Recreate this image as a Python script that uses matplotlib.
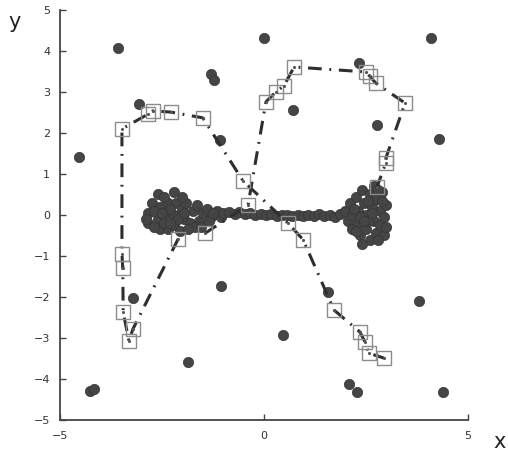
import numpy as np
import matplotlib
matplotlib.use("Agg")
import matplotlib.pyplot as plt

# scattered outliers
outX = [-3.58, -4.53, -1.30, -1.23, -3.07, -1.08, 0.00, 4.09, 2.33, 0.71, 2.77, 4.29,
        -3.21, -1.05, -1.86, -4.26, -4.17, 1.57, 3.80, 0.47, 2.08, 2.28, 4.39]
outY = [4.07, 1.41, 3.44, 3.29, 2.71, 1.83, 4.32, 4.32, 3.71, 2.56, 2.20, 1.85,
        -2.02, -1.73, -3.58, -4.29, -4.24, -1.88, -2.10, -2.93, -4.12, -4.31, -4.31]

# dumbbell cluster near y=0
leftX = [-2.85, -2.85, -2.75, -2.6, -2.55, -2.6, -2.55, -2.35, -2.4, -2.35, -2.2, -2.15,
         -2.2, -2.2, -2.05, -2.0, -1.95, -1.9, -1.75, -1.8, -1.65, -1.6, -1.5, -1.4,
         -1.3, -1.15, -1.05, -2.45, -2.0, -1.7, -2.7, -2.7, -2.45, -2.3, -2.1, -1.85,
         -1.55, -1.35, -2.9, -2.5, -2.3, -1.95, -1.25]
leftY = [0.05, -0.2, 0.3, 0.5, 0.2, -0.1, -0.35, -0.35, 0.05, 0.3, 0.55, 0.3,
         0.0, -0.25, -0.4, 0.15, -0.1, 0.3, 0.1, -0.2, 0.25, -0.15, 0.05, 0.15,
         -0.05, 0.1, -0.05, 0.45, 0.45, -0.3, 0.1, -0.3, -0.2, 0.15, -0.1, -0.35,
         -0.3, -0.15, -0.1, 0.05, -0.2, 0.05, 0.05]
chainX = [-1.0, -0.85, -0.72, -0.6, -0.47, -0.34, -0.21, -0.08, 0.05, 0.18, 0.31, 0.44,
          0.57, 0.7, 0.83, 0.96, 1.09, 1.22, 1.35, 1.48, 1.61, 1.74, 1.87]
chainY = [0.05, 0.08, 0.02, 0.07, 0.02, 0.05, 0.0, 0.03, -0.01, 0.02, -0.02, 0.01,
          0.0, -0.02, 0.0, -0.03, 0.0, -0.02, 0.02, -0.03, 0.0, -0.05, 0.02]
rightX = [2.0, 2.05, 2.1, 2.15, 2.25, 2.3, 2.3, 2.35, 2.4, 2.45, 2.5, 2.5, 2.6, 2.6,
          2.65, 2.7, 2.75, 2.75, 2.85, 2.85, 2.9, 2.95, 2.95, 3.0, 2.15, 2.4, 2.7,
          2.2, 2.35, 2.55, 2.55, 2.8, 2.8, 3.0, 2.45, 2.65, 2.9, 2.25]
rightY = [0.1, -0.15, 0.3, -0.35, 0.45, 0.1, -0.2, -0.5, 0.6, 0.3, 0.0, -0.35, 0.5, -0.6,
          0.2, -0.15, 0.4, -0.45, 0.1, -0.25, 0.55, -0.05, -0.5, 0.25, 0.0, -0.7, 0.7,
          0.15, -0.05, 0.35, -0.15, 0.6, -0.6, -0.3, -0.15, 0.05, 0.35, -0.4]

# two square-marker paths
path1X = [-2.1, -3.21, -3.31, -3.45, -3.46, -3.48, -3.48, -2.84, -2.72, -2.28, -1.50,
          -0.51, 0.59, 0.96, 1.72, 2.35, 2.48, 2.57, 2.94]
path1Y = [-0.58, -2.78, -3.07, -2.37, -1.29, -0.95, 2.10, 2.46, 2.54, 2.51, 2.37,
          0.83, -0.20, -0.60, -2.32, -2.85, -3.10, -3.37, -3.49]
path2X = [-1.45, -0.39, 0.05, 0.29, 0.49, 0.74, 2.50, 2.60, 2.74, 3.46, 2.99, 2.99, 2.77]
path2Y = [-0.45, 0.24, 2.76, 3.00, 3.15, 3.61, 3.49, 3.38, 3.22, 2.73, 1.39, 1.27, 0.68]

fig = plt.figure(figsize=(5.08, 4.55), dpi=100)
ax = fig.add_axes([0.118, 0.077, 0.803, 0.901])

dot = dict(s=55, c='#454545', edgecolors='#353535', linewidths=0.5, zorder=2)
ax.scatter(outX, outY, **dot)
ax.scatter(leftX + chainX + rightX, leftY + chainY + rightY, **dot)

for px, py in [(path1X, path1Y), (path2X, path2Y)]:
    ax.plot(px, py, color='#2e2e2e', lw=2.2, linestyle=(0, (4.5, 2.5, 0.6, 2.5)), zorder=3)
    ax.plot(px, py, linestyle='none', marker='s', ms=9.5, mfc='none',
            mec='#8c8c8c', mew=1.0, zorder=4)
    ax.plot(px, py, linestyle='none', marker='.', ms=2.5, color='#555555', zorder=4)

ax.set_xlim(-5, 5)
ax.set_ylim(-5, 5)
ax.set_xticks([-5, 0, 5])
ax.set_yticks(np.arange(-5, 6, 1))
for s in ['top', 'right']:
    ax.spines[s].set_visible(False)
for s in ['left', 'bottom']:
    ax.spines[s].set_color('#444444')
    ax.spines[s].set_linewidth(1.3)
ax.tick_params(direction='in', length=4, width=1, colors='#444444', labelsize=8,
               labelcolor='#333333')
ax.tick_params(axis='x', pad=8)
ax.tick_params(axis='y', pad=7)

fig.text(15 / 508, 1 - 22 / 455, 'y', fontsize=15, ha='center', va='center', color='#222222')
fig.text(500 / 508, 1 - 442 / 455, 'x', fontsize=15, ha='center', va='center', color='#222222')

fig.savefig('out.png', dpi=100)
